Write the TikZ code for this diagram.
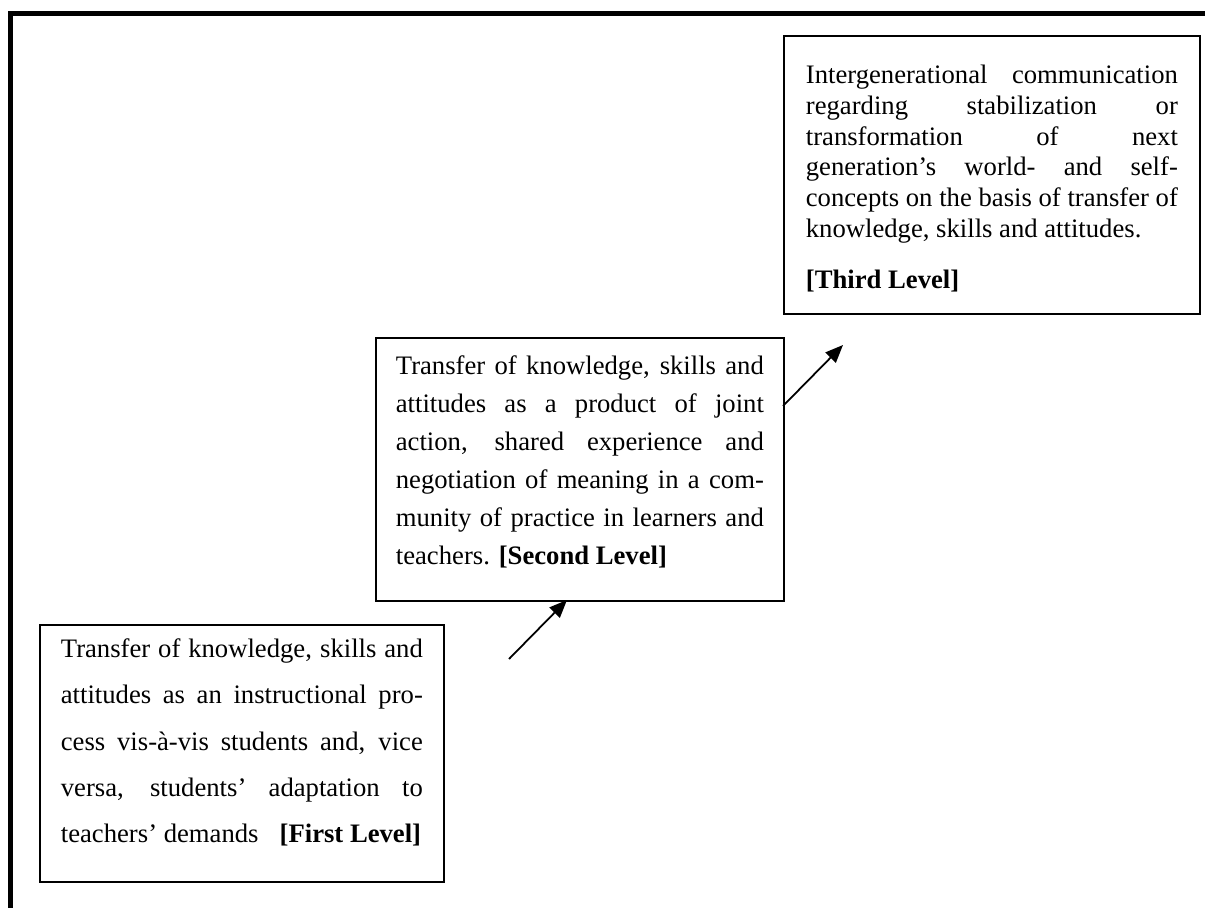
\documentclass[tikz,border=0pt]{standalone}
\usepackage{fontspec}
\setmainfont{Liberation Serif}
\usetikzlibrary{arrows.meta}
\tolerance=10000
\hyphenpenalty=10000
\exhyphenpenalty=10000

\tikzset{
  levelbox/.style={draw, line width=0.8pt, anchor=north west, inner ysep=0pt, align=justify},
  levelarrow/.style={-{Triangle[length=8pt,width=6.5pt]}, line width=0.8pt}
}

\begin{document}
\begin{tikzpicture}[x=0.45pt, y=-0.45pt]
  \useasboundingbox (0,0) rectangle (1205,908);
  % Frame, top and left only
  \draw[line width=2.25pt] (10.5,908) -- (10.5,13.5) -- (1205,13.5);
  % Third level
  \node[levelbox, inner xsep=9.9pt, text width=167.4pt, text height=21.5pt, text depth=103.6pt,
        font=\fontsize{12}{13.8}\selectfont] (third) at (783,35)
    {Intergenerational communication\linebreak regarding stabilization or\linebreak
     transformation of next\linebreak generation’s world- and self-\linebreak
     concepts on the basis of transfer of\linebreak knowledge, skills and attitudes.\par
     \vspace{9.5pt}\textbf{[Third Level]}};
  % Second level
  \node[levelbox, inner xsep=9pt, text width=165.6pt, text height=16.6pt, text depth=101.75pt,
        font=\fontsize{12}{17.1}\selectfont] (second) at (375,337)
    {Transfer of knowledge, skills and\linebreak attitudes as a product of joint\linebreak
     action, shared experience and\linebreak negotiation of meaning in a com-\linebreak
     munity of practice in learners and\linebreak teachers. \textbf{[Second Level]}};
  % First level
  \node[levelbox, inner xsep=9.45pt, text width=162.9pt, text height=14.7pt, text depth=100.95pt,
        font=\fontsize{12}{20.8}\selectfont] (first) at (39,624)
    {Transfer of knowledge, skills and\linebreak attitudes as an instructional pro-\linebreak
     cess vis-à-vis students and, vice\linebreak versa, students’ adaptation to\linebreak
     teachers’ demands\hspace{9.5pt}\textbf{[First Level]}};
  % Arrows
  \coordinate (up1) at (509,659);
  \coordinate (tip1) at (567,600);
  \coordinate (up2) at (783,406);
  \coordinate (tip2) at (843,345);
  \draw[levelarrow] (up1) -- (tip1);
  \draw[levelarrow] (up2) -- (tip2);
\end{tikzpicture}
\end{document}
